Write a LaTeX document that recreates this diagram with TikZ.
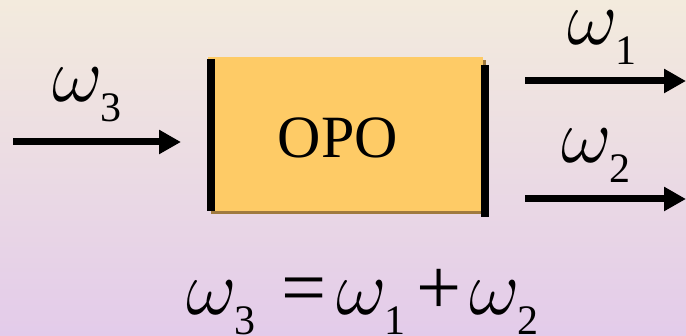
\RequirePackage{fix-cm}
\documentclass[tikz,border=0pt]{standalone}
\usepackage{fontspec}
\setmainfont{Liberation Serif}
\usetikzlibrary{arrows.meta}
\definecolor{bgtop}{RGB}{243,235,221}
\definecolor{bgbot}{RGB}{227,203,234}
\definecolor{opofill}{RGB}{254,203,102}
\definecolor{oposhadow}{RGB}{160,122,62}
\newcommand{\om}[1]{$\omega$\kern-0.03em\raisebox{-20pt}{\fontsize{42}{42}\selectfont #1}}
\tikzset{
  beam/.style={line width=7pt, -{Triangle[length=22pt,width=23pt]}},
  mirror/.style={line width=8pt},
  lbl/.style={inner sep=0pt, anchor=base west, font=\fontsize{78}{78}\selectfont},
  sym/.style={inner sep=0pt, anchor=base west, font=\fontsize{80}{80}\selectfont},
}
\begin{document}
\begin{tikzpicture}[x=1pt,y=-1pt]
\useasboundingbox (0,0) rectangle (686,336);
\shade[top color=bgtop, bottom color=bgbot] (0,0) rectangle (686,336);
% box with shadow
\fill[oposhadow] (211,60) rectangle (486,214);
\node[fill=opofill, draw=none, minimum width=275pt, minimum height=154pt, inner sep=0pt] (box) at (345.5,134) {};
\node[inner sep=0pt, anchor=base, font=\fontsize{60}{60}\selectfont] (opo) at (338,158) {OPO};
% mirrors
\coordinate (m1t) at (211,59);
\coordinate (m1b) at (211,211);
\coordinate (m2t) at (485,65);
\coordinate (m2b) at (485,217);
\draw[mirror] (m1t) -- (m1b);
\draw[mirror] (m2t) -- (m2b);
% beams
\coordinate (inA) at (13,142);
\coordinate (inB) at (181,142);
\coordinate (o1A) at (525,81);
\coordinate (o1B) at (686,81);
\coordinate (o2A) at (525,199);
\coordinate (o2B) at (686,199);
\draw[beam] (inA) -- (inB);
\draw[beam] (o1A) -- (o1B);
\draw[beam] (o2A) -- (o2B);
% labels
\node[lbl] (w3) at (52,102) {\om{3}};
\node[lbl] (w1) at (567,45) {\om{1}};
\node[lbl] (w2) at (561,163) {\om{2}};
% equation
\node[lbl] (e1) at (186,315) {\om{3}};
\node[sym] (e2) at (281,315) {=};
\node[lbl] (e3) at (336,315) {\om{1}};
\node[sym] (e4) at (416,315) {+};
\node[lbl] (e5) at (469,315) {\om{2}};
\end{tikzpicture}
\end{document}
